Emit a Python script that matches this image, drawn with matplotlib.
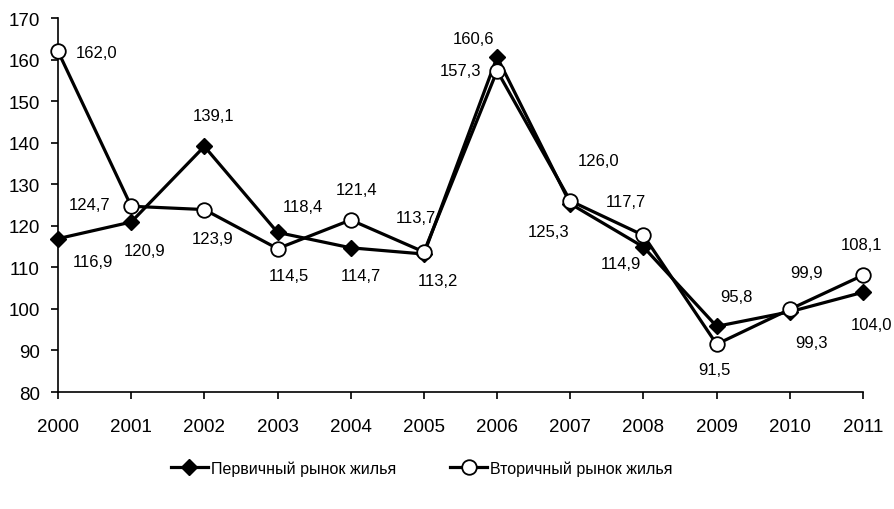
import numpy as np
import matplotlib
matplotlib.use('Agg')
from matplotlib import pyplot as plt
from matplotlib.lines import Line2D

plt.rcParams['font.family'] = ['Liberation Sans', 'DejaVu Sans']

years = [2000, 2001, 2002, 2003, 2004, 2005, 2006, 2007, 2008, 2009, 2010, 2011]
perv = [116.9, 120.9, 139.1, 118.4, 114.7, 113.2, 160.6, 125.3, 114.9, 95.8, 99.3, 104.0]
vtor = [162.0, 124.7, 123.9, 114.5, 121.4, 113.7, 157.3, 126.0, 117.7, 91.5, 99.9, 108.1]
names = [u'Первичный рынок жилья', u'Вторичный рынок жилья']

# label offsets (pixels, x right / y down)
off_perv = [(35, 23), (13, 28), (9, -31), (25, -26), (10, 28), (14, 26),
            (-24, -19), (-22, 28), (-23, 17), (20, -30), (22, 31), (9, 32)]
off_vtor = [(39, 1), (-42, -2), (8, 29), (11, 27), (6, -30), (-8, -34),
            (-37, 0), (28, -40), (-18, -34), (-2, 25), (17, -37), (-1, -31)]

fig = plt.figure(figsize=(8.94, 5.10), dpi=100)
ax = fig.add_axes([58/894., 1-393/510., (863-58)/894., (393-19)/510.])

x = np.arange(len(years))
ax.plot(x, perv, '-', color='k', lw=2.3, marker='D', ms=8.5, mfc='k', mec='k', zorder=3, clip_on=False)
ax.plot(x, vtor, '-', color='k', lw=2.3, marker='o', ms=10.5, mfc='white', mec='k', mew=1.3, zorder=4, clip_on=False)

pt = 72. / 100
for i in range(len(years)):
    dx, dy = off_perv[i]
    ax.annotate(('%.1f' % perv[i]).replace('.', ','), (x[i], perv[i]), xytext=(dx*pt, -dy*pt),
                textcoords='offset points', ha='center', va='center', fontsize=12)
    dx, dy = off_vtor[i]
    ax.annotate(('%.1f' % vtor[i]).replace('.', ','), (x[i], vtor[i]), xytext=(dx*pt, -dy*pt),
                textcoords='offset points', ha='center', va='center', fontsize=12)

ax.set_xlim(0, len(years) - 1)
ax.set_ylim(80, 170)
ax.set_yticks(np.arange(80, 171, 10))
ax.set_xticks(x)
ax.set_xticklabels([str(y) for y in years])
ax.spines['top'].set_visible(False)
ax.spines['right'].set_visible(False)
for s in ['left', 'bottom']:
    ax.spines[s].set_linewidth(1.2)
ax.tick_params(axis='both', direction='out', length=5, width=1.2, labelsize=13.5)
ax.tick_params(axis='x', pad=14)
ax.tick_params(axis='y', pad=8)

h1 = Line2D([], [], color='k', lw=2.3, marker='D', ms=8.5, mfc='k', mec='k')
h2 = Line2D([], [], color='k', lw=2.3, marker='o', ms=10.5, mfc='white', mec='k', mew=1.3)
fig.legend([h1, h2], names, loc='center', bbox_to_anchor=(0.472, 1-469/510.), ncol=2,
           frameon=False, fontsize=11.5, handlelength=2.3, handletextpad=0.2, columnspacing=3.4)

fig.savefig('out.png', dpi=100)
